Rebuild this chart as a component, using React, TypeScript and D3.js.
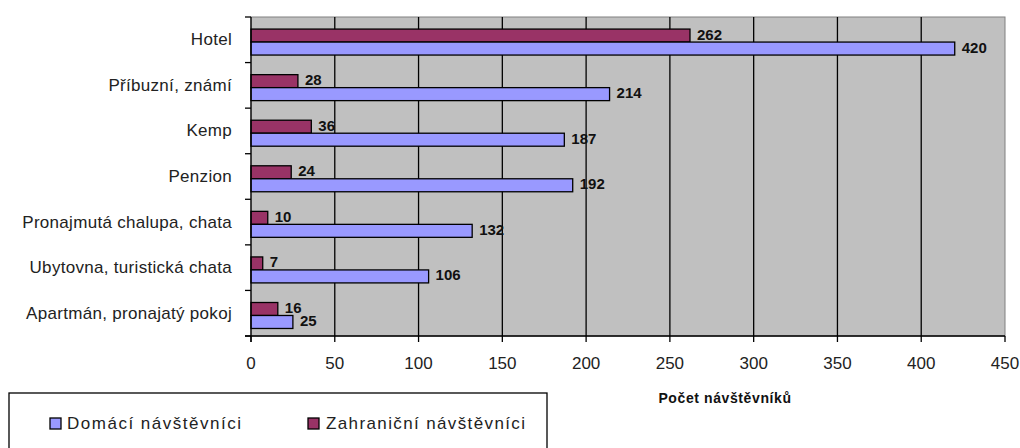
import React from "react";
import * as d3 from "d3";

const categories = [
  "Hotel",
  "Příbuzní, známí",
  "Kemp",
  "Penzion",
  "Pronajmutá chalupa, chata",
  "Ubytovna, turistická chata",
  "Apartmán, pronajatý pokoj",
];
const seriesNames = ["Zahraniční návštěvníci", "Domácí návštěvníci"];
const domaci = [420, 214, 187, 192, 132, 106, 25];
const zahranicni = [262, 28, 36, 24, 10, 7, 16];
const xTicks = [0, 50, 100, 150, 200, 250, 300, 350, 400, 450];
const axisTitle = "Počet návštěvníků";

const COLORS: Record<string, string> = {
  "Domácí návštěvníci": "#9999FF",
  "Zahraniční návštěvníci": "#993366",
};

export default function App() {
  const W = 1020, H = 448;
  const left = 251, right = 1005, top = 17, bottom = 336;
  const x = d3.scaleLinear().domain([0, 450]).range([left, right]);
  const y = d3.scaleBand<string>().domain(categories).range([top, bottom]).padding(0);
  const bw = y.bandwidth();
  const inner = d3.scaleBand<string>().domain(seriesNames).range([bw * 0.265, bw * 0.835]);
  const values: Record<string, number[]> = {
    "Domácí návštěvníci": domaci,
    "Zahraniční návštěvníci": zahranicni,
  };
  const font = "'Liberation Sans', Arial, sans-serif";
  const boundaries = categories.map((c) => y(c) as number).concat([bottom]);

  return (
    <svg width={W} height={H} style={{ position: "absolute", left: 0, top: 0, background: "#fff" }} fontFamily={font}>
      <rect x={left} y={top} width={right - left} height={bottom - top} fill="#C0C0C0" stroke="#808080" strokeWidth={1} />
      {xTicks.slice(1, -1).map((t) => (
        <line key={"g" + t} x1={x(t)} x2={x(t)} y1={top} y2={bottom} stroke="#000" strokeWidth={1.3} />
      ))}
      {categories.map((c, i) =>
        seriesNames.map((s) => {
          const v = values[s][i];
          const by = (y(c) as number) + (inner(s) as number);
          const bh = inner.bandwidth();
          return (
            <g key={c + s}>
              <rect x={x(0)} y={by} width={x(v) - x(0)} height={bh} fill={COLORS[s]} stroke="#000" strokeWidth={1.3} />
              <text x={x(v) + 7} y={by + bh / 2 - 1.5} dominantBaseline="central" fontSize={15} fontWeight="bold" fill="#111">
                {v}
              </text>
            </g>
          );
        })
      )}
      {/* axes */}
      <line x1={left} x2={left} y1={top} y2={bottom + 6} stroke="#000" strokeWidth={1.3} />
      <line x1={left - 6} x2={right} y1={bottom} y2={bottom} stroke="#000" strokeWidth={1.3} />
      {boundaries.map((b, i) => (
        <line key={"yt" + i} x1={left - 6} x2={left} y1={b} y2={b} stroke="#000" strokeWidth={1.3} />
      ))}
      {xTicks.map((t) => (
        <g key={"xt" + t}>
          <line x1={x(t)} x2={x(t)} y1={bottom} y2={bottom + 6} stroke="#000" strokeWidth={1.3} />
          <text x={x(t)} y={363} textAnchor="middle" dominantBaseline="central" fontSize={17} fill="#222">
            {t}
          </text>
        </g>
      ))}
      {categories.map((c) => (
        <text key={"cl" + c} x={232} y={(y(c) as number) + bw / 2} textAnchor="end" dominantBaseline="central" fontSize={17} letterSpacing={0.3} fill="#222">
          {c}
        </text>
      ))}
      <text x={725} y={398} textAnchor="middle" dominantBaseline="central" fontSize={14} fontWeight="bold" letterSpacing={0.6} fill="#111">
        {axisTitle}
      </text>
      {/* legend */}
      <rect x={9} y={393} width={538} height={70} fill="#fff" stroke="#000" strokeWidth={1.3} />
      {[
        { s: "Domácí návštěvníci", sx: 50, tx: 67, tl: 174 },
        { s: "Zahraniční návštěvníci", sx: 308, tx: 326, tl: 199 },
      ].map((l) => (
        <g key={"lg" + l.s}>
          <rect x={l.sx} y={418} width={11} height={11} fill={COLORS[l.s]} stroke="#000" strokeWidth={1.3} />
          <text x={l.tx} y={423} dominantBaseline="central" fontSize={17} textLength={l.tl} lengthAdjust="spacing" fill="#222">
            {l.s}
          </text>
        </g>
      ))}
    </svg>
  );
}
